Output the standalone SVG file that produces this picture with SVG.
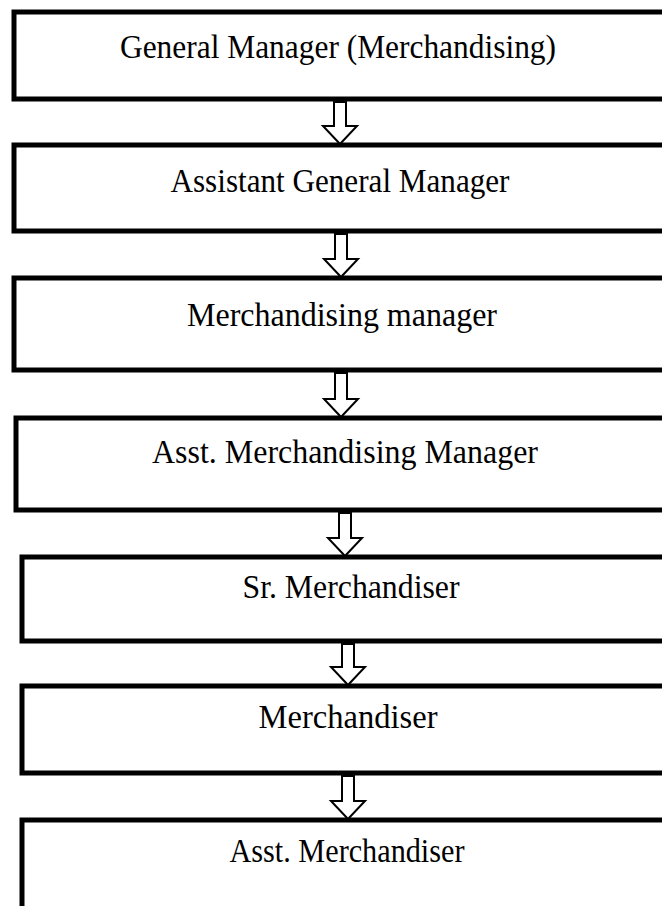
<svg xmlns="http://www.w3.org/2000/svg" width="662" height="906" viewBox="0 0 662 906">
<style>
.box{fill:#fff;stroke:#000;stroke-width:5}
.lbl{font-family:"Liberation Serif","Times New Roman",serif;font-size:33px;fill:#000;text-anchor:middle}
.arr{fill:#fff;stroke:#000;stroke-width:2;stroke-linejoin:miter}
</style>
<rect width="662" height="906" fill="#fff"/>
<g id="n1"><rect class="box" x="14" y="12" width="700" height="87"/><text class="lbl" x="338" y="58" textLength="436" lengthAdjust="spacingAndGlyphs">General Manager (Merchandising)</text></g>
<g id="n2"><rect class="box" x="14" y="145" width="700" height="86"/><text class="lbl" x="340" y="192" textLength="339" lengthAdjust="spacingAndGlyphs">Assistant General Manager</text></g>
<g id="n3"><rect class="box" x="14" y="278" width="700" height="92"/><text class="lbl" x="342" y="326" textLength="310" lengthAdjust="spacingAndGlyphs">Merchandising manager</text></g>
<g id="n4"><rect class="box" x="16" y="418" width="700" height="92"/><text class="lbl" x="345" y="463" textLength="386" lengthAdjust="spacingAndGlyphs">Asst. Merchandising Manager</text></g>
<g id="n5"><rect class="box" x="22" y="557" width="700" height="84"/><text class="lbl" x="351" y="598" textLength="217" lengthAdjust="spacingAndGlyphs">Sr. Merchandiser</text></g>
<g id="n6"><rect class="box" x="22" y="686" width="700" height="87"/><text class="lbl" x="348" y="728" textLength="179" lengthAdjust="spacingAndGlyphs">Merchandiser</text></g>
<g id="n7"><rect class="box" x="22" y="820" width="700" height="120"/><text class="lbl" x="347" y="862" textLength="235" lengthAdjust="spacingAndGlyphs">Asst. Merchandiser</text></g>
<g id="connectors">
<path class="arr" d="M334,102 L346,102 L346,126 L357,126 L340,144 L323,126 L334,126 Z"/>
<path class="arr" d="M335,234 L347,234 L347,259 L358,259 L341,277 L324,259 L335,259 Z"/>
<path class="arr" d="M335,373 L347,373 L347,399 L358,399 L341,417 L324,399 L335,399 Z"/>
<path class="arr" d="M339,513 L351,513 L351,538 L362,538 L345,556 L328,538 L339,538 Z"/>
<path class="arr" d="M342,644 L354,644 L354,667 L365,667 L348,685 L331,667 L342,667 Z"/>
<path class="arr" d="M342,776 L354,776 L354,801 L365,801 L348,819 L331,801 L342,801 Z"/>
</g>
</svg>
